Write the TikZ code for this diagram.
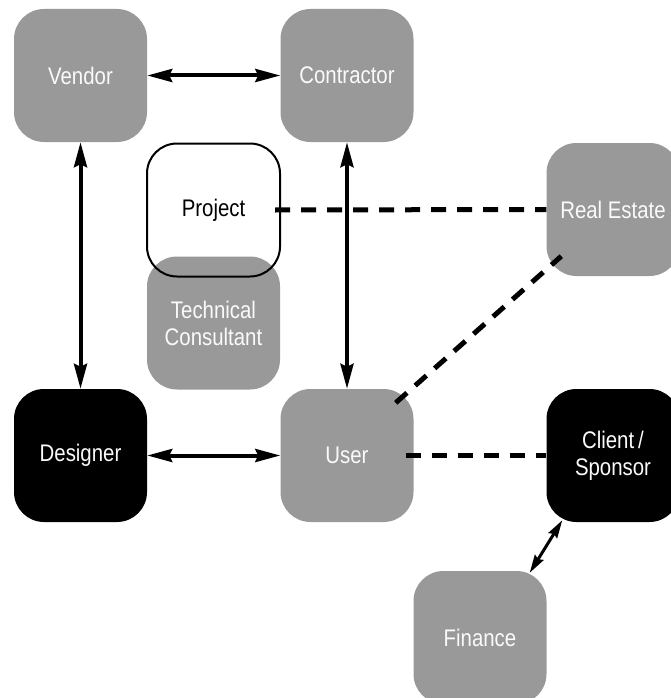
\documentclass[tikz,border=0pt]{standalone}
\usepackage{fontspec}
\setmainfont[FakeStretch=0.85]{Liberation Sans}
\usetikzlibrary{arrows.meta}
\definecolor{boxgray}{RGB}{153,153,153}
\definecolor{txtwhite}{RGB}{250,250,250}
\begin{document}
\begin{tikzpicture}[x=1pt,y=-1pt,
  base/.style={rounded corners=30pt, minimum width=133pt, minimum height=133pt, inner sep=0pt,
    align=center, font=\fontsize{24}{27}\selectfont},
  graybox/.style={base, fill=boxgray, text=txtwhite},
  blackbox/.style={base, fill=black, text=txtwhite},
  openbox/.style={base, draw=black, line width=2pt, text=black},
  link/.style={line width=4pt, {Stealth[length=25pt,width=13pt,inset=3pt]}-{Stealth[length=25pt,width=13pt,inset=3pt]}},
  smalllink/.style={line width=3pt, {Stealth[length=18pt,width=10pt,inset=2pt]}-{Stealth[length=18pt,width=10pt,inset=2pt]}},
  dashlink/.style={line width=5pt, dash pattern=on 15pt off 11pt}
]
\useasboundingbox (0,0) rectangle (671,698);
\node[graybox] (vendor) at (80.5,75.5) {Vendor};
\node[graybox] (contractor) at (347,75.5) {Contractor};
\node[graybox] (tc) at (213.5,323) {Technical\\Consultant};
\node[openbox] (project) at (213.5,210) {Project};
\node[graybox] (realestate) at (613,209.5) {Real Estate};
\node[blackbox] (designer) at (80.5,455.5) {Designer};
\node[graybox] (user) at (347,455.5) {User};
\node[blackbox] (client) at (613,455.5) {Client\,/\\Sponsor};
\node[graybox] (finance) at (480,637.5) {Finance};

\draw[link] (vendor.east) -- (contractor.west);
\draw[link] (vendor.south) -- (designer.north);
\draw[link] (contractor.south) -- (user.north);
\draw[link] (designer.east) -- (user.west);
\draw[dashlink] ([xshift=-6pt]project.east) -- (realestate.west);
\draw[dashlink] ([shift={(-18pt,-14pt)}]user.north east) -- ([shift={(15pt,20pt)}]realestate.south west);
\draw[dashlink] ([xshift=-8pt]user.east) -- (client.west);
\draw[smalllink] ([shift={(16pt,2pt)}]client.south west) -- ([shift={(-17pt,-2pt)}]finance.north east);
\end{tikzpicture}
\end{document}
